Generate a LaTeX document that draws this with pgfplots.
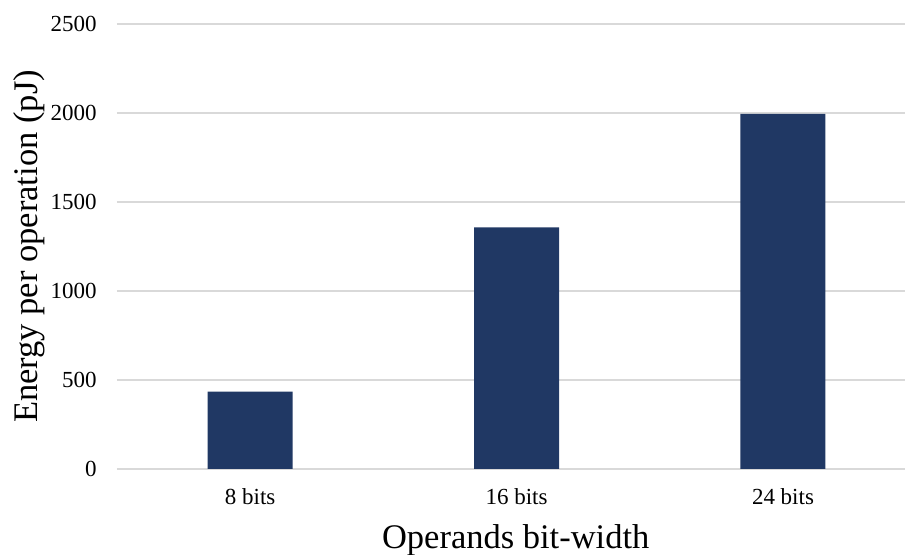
\documentclass[border=0pt]{standalone}
\usepackage{fontspec}
\setmainfont{Liberation Serif}
\usepackage{pgfplots}
\pgfplotsset{compat=1.18}
\definecolor{barblue}{HTML}{203864}
\definecolor{gridgray}{HTML}{D9D9D9}
\begin{document}
\begin{tikzpicture}
\begin{axis}[
  at={(0,0)}, anchor=south west,
  scale only axis,
  width=394pt, height=222.5pt,
  xmin=-0.5, xmax=2.458,
  ymin=0, ymax=2500,
  ytick={0,500,1000,1500,2000,2500},
  xtick={0,1,2},
  xticklabels={8 bits,16 bits,24 bits},
  axis line style={draw=none},
  major tick length=0pt,
  ymajorgrids,
  grid style={gridgray, line width=0.8pt},
  /pgf/number format/assume math mode=true,
  /pgf/number format/1000 sep={},
  tick label style={font=\fontsize{11.5}{13}\selectfont},
  yticklabel style={anchor=east, inner sep=0pt, xshift=-10pt},
  xticklabel style={anchor=center, inner sep=0pt, yshift=-14pt},
  xlabel={Operands bit-width},
  ylabel={Energy per operation (pJ)},
  label style={font=\fontsize{17.25}{20}\selectfont},
  xlabel style={at={(axis description cs:0.506,-0.16)}, anchor=center},
  ylabel style={at={(axis description cs:-0.1117,0.5)}, anchor=center, rotate=0},
  clip=false,
]
\addplot[ybar, bar width=42.5pt, fill=barblue, draw=none] coordinates {(0,435) (1,1357) (2,1995)};
\end{axis}
\pgfresetboundingbox
\path[use as bounding box] (-58.5pt,-43pt) rectangle (394pt,234.5pt);
\end{tikzpicture}
\end{document}
